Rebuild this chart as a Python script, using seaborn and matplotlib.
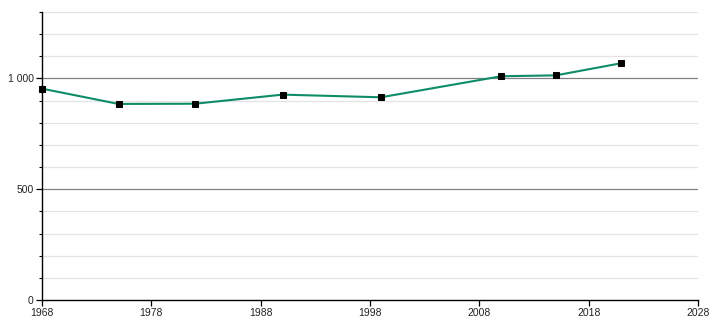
import matplotlib
matplotlib.use("Agg")
import matplotlib.pyplot as plt
import seaborn as sns
import pandas as pd
from matplotlib.ticker import MultipleLocator, FuncFormatter

years = [1968, 1975, 1982, 1990, 1999, 2010, 2015, 2021]
population = [954, 885, 886, 927, 915, 1010, 1014, 1069]
x_ticks = [1968, 1978, 1988, 1998, 2008, 2018, 2028]

df = pd.DataFrame({"year": years, "population": population})

sns.set_style("white")
plt.rcParams['font.family'] = ['Liberation Sans', 'DejaVu Sans']

fig = plt.figure(figsize=(7.1, 3.2), dpi=100)
ax = fig.add_axes([42/710, 20/320, 656/710, 288/320])

ax.set_xlim(1968, 2028)
ax.set_ylim(0, 1300)

# grid lines
for v in range(100, 1301, 100):
    if v % 500 == 0:
        ax.axhline(v, color="#808080", lw=0.9, zorder=1)
    else:
        ax.axhline(v, color="#e3e3e3", lw=0.9, zorder=1)

sns.lineplot(data=df, x="year", y="population", ax=ax, color="#0e8c68", lw=1.5,
             marker="s", markersize=3.8, markerfacecolor="black",
             markeredgecolor="black", zorder=3, clip_on=False)

ax.set_xticks(x_ticks)
ax.set_xticklabels([str(t) for t in x_ticks])
ax.yaxis.set_major_locator(MultipleLocator(500))
ax.yaxis.set_minor_locator(MultipleLocator(100))
ax.yaxis.set_major_formatter(FuncFormatter(lambda v, p: f"{int(v):,}".replace(",", " ")))

for s in ["top", "right"]:
    ax.spines[s].set_visible(False)
for s in ["left", "bottom"]:
    ax.spines[s].set_color("black")
    ax.spines[s].set_linewidth(1.0)

ax.tick_params(axis="both", which="major", direction="out", length=4, width=0.9,
               color="black", labelsize=7.5, labelcolor="#222222", pad=2,
               left=True, bottom=True)
ax.tick_params(axis="y", which="minor", direction="out", length=2.5, width=0.8,
               color="black", left=True)
ax.set_xlabel("")
ax.set_ylabel("")

fig.savefig("out.png", dpi=100)
